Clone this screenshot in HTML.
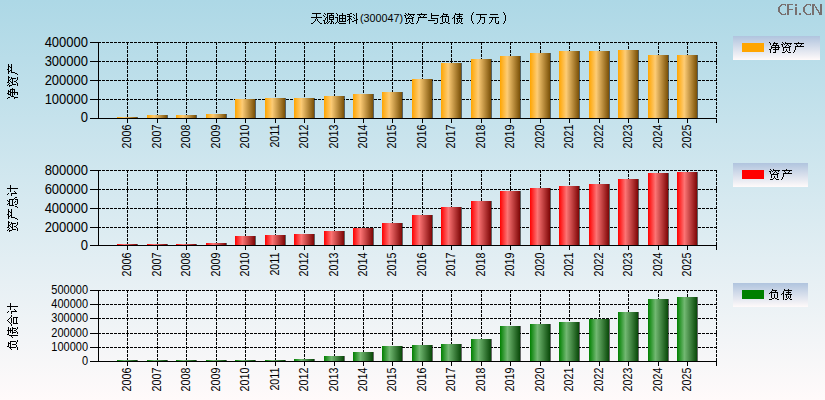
<!DOCTYPE html>
<html><head><meta charset="utf-8">
<style>
html,body{margin:0;padding:0;width:825px;height:400px;overflow:hidden;}
svg{display:block;}
text{font-family:"Liberation Sans",sans-serif;}
</style></head><body>
<svg width="825" height="400" viewBox="0 0 825 400">
<defs>
<linearGradient id="bg" x1="0" y1="0" x2="0" y2="1">
<stop offset="0" stop-color="#ADD8E6"/><stop offset="1" stop-color="#FFFAFA"/></linearGradient>
<linearGradient id="lg" x1="0" y1="0" x2="0" y2="1">
<stop offset="0" stop-color="#B0C4DE"/><stop offset="1" stop-color="#FFFAFA"/></linearGradient>
<linearGradient id="gO" x1="0" y1="0" x2="1" y2="0">
<stop offset="0" stop-color="#FFA500"/><stop offset="0.36" stop-color="#FDCC76"/><stop offset="1" stop-color="#7A5006"/></linearGradient>
<linearGradient id="gR" x1="0" y1="0" x2="1" y2="0">
<stop offset="0" stop-color="#FF0000"/><stop offset="0.37" stop-color="#FC7474"/><stop offset="1" stop-color="#7E0606"/></linearGradient>
<linearGradient id="gG" x1="0" y1="0" x2="1" y2="0">
<stop offset="0" stop-color="#008000"/><stop offset="0.37" stop-color="#72B872"/><stop offset="1" stop-color="#084808"/></linearGradient>
</defs>
<rect x="0" y="0" width="825" height="400" fill="url(#bg)"/>

<path shape-rendering="crispEdges" fill="#000" d="M312 13h9v1h-9zM324 13h1v1h-1zM327 13h7v1h-7zM336 13h1v1h-1zM342 13h1v1h-1zM350 13h2v1h-2zM356 13h1v1h-1zM316 14h1v1h-1zM325 14h1v1h-1zM327 14h1v1h-1zM331 14h1v1h-1zM337 14h1v1h-1zM342 14h1v1h-1zM347 14h3v1h-3zM353 14h1v1h-1zM356 14h1v1h-1zM316 15h1v1h-1zM323 15h1v1h-1zM327 15h1v1h-1zM329 15h5v1h-5zM337 15h1v1h-1zM339 15h7v1h-7zM349 15h1v1h-1zM354 15h1v1h-1zM356 15h1v1h-1zM316 16h1v1h-1zM324 16h1v1h-1zM327 16h1v1h-1zM329 16h1v1h-1zM333 16h1v1h-1zM339 16h1v1h-1zM342 16h1v1h-1zM345 16h1v1h-1zM347 16h5v1h-5zM356 16h1v1h-1zM311 17h11v1h-11zM326 17h2v1h-2zM329 17h5v1h-5zM335 17h3v1h-3zM339 17h1v1h-1zM342 17h1v1h-1zM345 17h1v1h-1zM349 17h1v1h-1zM353 17h1v1h-1zM356 17h1v1h-1zM316 18h1v1h-1zM325 18h1v1h-1zM327 18h1v1h-1zM329 18h1v1h-1zM333 18h1v1h-1zM337 18h1v1h-1zM339 18h7v1h-7zM349 18h2v1h-2zM354 18h1v1h-1zM356 18h1v1h-1zM315 19h1v1h-1zM317 19h1v1h-1zM325 19h1v1h-1zM327 19h1v1h-1zM329 19h5v1h-5zM337 19h1v1h-1zM339 19h1v1h-1zM342 19h1v1h-1zM345 19h1v1h-1zM348 19h2v1h-2zM351 19h1v1h-1zM356 19h2v1h-2zM315 20h1v1h-1zM317 20h1v1h-1zM323 20h2v1h-2zM327 20h1v1h-1zM331 20h1v1h-1zM337 20h1v1h-1zM339 20h1v1h-1zM342 20h1v1h-1zM345 20h1v1h-1zM347 20h1v1h-1zM349 20h1v1h-1zM354 20h3v1h-3zM314 21h1v1h-1zM318 21h1v1h-1zM324 21h1v1h-1zM327 21h1v1h-1zM329 21h1v1h-1zM331 21h2v1h-2zM337 21h1v1h-1zM339 21h7v1h-7zM349 21h1v1h-1zM352 21h2v1h-2zM356 21h1v1h-1zM313 22h1v1h-1zM319 22h1v1h-1zM324 22h1v1h-1zM326 22h1v1h-1zM328 22h1v1h-1zM331 22h1v1h-1zM333 22h1v1h-1zM336 22h1v1h-1zM338 22h1v1h-1zM349 22h1v1h-1zM356 22h1v1h-1zM311 23h2v1h-2zM320 23h2v1h-2zM324 23h2v1h-2zM327 23h1v1h-1zM330 23h2v1h-2zM333 23h1v1h-1zM335 23h1v1h-1zM339 23h7v1h-7zM349 23h1v1h-1zM356 23h1v1h-1zM473 12h1v1h-1zM503 12h1v1h-1zM405 13h1v1h-1zM408 13h1v1h-1zM421 13h1v1h-1zM431 13h1v1h-1zM443 13h1v1h-1zM455 13h1v1h-1zM459 13h1v1h-1zM472 13h1v1h-1zM504 13h1v1h-1zM406 14h1v1h-1zM408 14h7v1h-7zM417 14h10v1h-10zM431 14h1v1h-1zM443 14h5v1h-5zM455 14h8v1h-8zM472 14h1v1h-1zM476 14h11v1h-11zM490 14h8v1h-8zM504 14h1v1h-1zM404 15h2v1h-2zM407 15h1v1h-1zM410 15h1v1h-1zM413 15h1v1h-1zM419 15h1v1h-1zM424 15h1v1h-1zM431 15h8v1h-8zM442 15h1v1h-1zM446 15h1v1h-1zM454 15h1v1h-1zM459 15h1v1h-1zM471 15h1v1h-1zM480 15h1v1h-1zM505 15h1v1h-1zM405 16h1v1h-1zM409 16h1v1h-1zM411 16h1v1h-1zM420 16h1v1h-1zM423 16h1v1h-1zM431 16h1v1h-1zM441 16h8v1h-8zM454 16h1v1h-1zM457 16h5v1h-5zM471 16h1v1h-1zM480 16h1v1h-1zM505 16h1v1h-1zM405 17h1v1h-1zM408 17h1v1h-1zM412 17h2v1h-2zM418 17h9v1h-9zM431 17h1v1h-1zM440 17h1v1h-1zM442 17h1v1h-1zM448 17h1v1h-1zM453 17h2v1h-2zM459 17h1v1h-1zM471 17h1v1h-1zM480 17h5v1h-5zM489 17h10v1h-10zM505 17h1v1h-1zM406 18h7v1h-7zM418 18h1v1h-1zM431 18h7v1h-7zM442 18h1v1h-1zM445 18h1v1h-1zM448 18h1v1h-1zM452 18h1v1h-1zM454 18h1v1h-1zM456 18h7v1h-7zM471 18h1v1h-1zM480 18h1v1h-1zM484 18h1v1h-1zM492 18h1v1h-1zM495 18h1v1h-1zM505 18h1v1h-1zM406 19h1v1h-1zM412 19h1v1h-1zM418 19h1v1h-1zM437 19h1v1h-1zM442 19h1v1h-1zM445 19h1v1h-1zM448 19h1v1h-1zM454 19h1v1h-1zM457 19h1v1h-1zM461 19h1v1h-1zM471 19h1v1h-1zM480 19h1v1h-1zM484 19h1v1h-1zM492 19h1v1h-1zM495 19h1v1h-1zM505 19h1v1h-1zM406 20h1v1h-1zM409 20h1v1h-1zM412 20h1v1h-1zM418 20h1v1h-1zM428 20h7v1h-7zM437 20h1v1h-1zM442 20h1v1h-1zM445 20h1v1h-1zM448 20h1v1h-1zM454 20h1v1h-1zM457 20h1v1h-1zM459 20h1v1h-1zM461 20h1v1h-1zM471 20h1v1h-1zM479 20h1v1h-1zM484 20h1v1h-1zM491 20h1v1h-1zM495 20h1v1h-1zM505 20h1v1h-1zM406 21h1v1h-1zM409 21h1v1h-1zM412 21h1v1h-1zM417 21h1v1h-1zM437 21h1v1h-1zM442 21h1v1h-1zM445 21h1v1h-1zM448 21h1v1h-1zM454 21h1v1h-1zM457 21h1v1h-1zM459 21h1v1h-1zM461 21h1v1h-1zM472 21h1v1h-1zM479 21h1v1h-1zM484 21h1v1h-1zM491 21h1v1h-1zM495 21h1v1h-1zM498 21h1v1h-1zM504 21h1v1h-1zM408 22h1v1h-1zM410 22h1v1h-1zM417 22h1v1h-1zM437 22h1v1h-1zM443 22h2v1h-2zM446 22h2v1h-2zM454 22h1v1h-1zM458 22h1v1h-1zM460 22h1v1h-1zM472 22h1v1h-1zM478 22h1v1h-1zM484 22h1v1h-1zM490 22h1v1h-1zM495 22h1v1h-1zM498 22h1v1h-1zM504 22h1v1h-1zM405 23h3v1h-3zM411 23h3v1h-3zM416 23h1v1h-1zM434 23h3v1h-3zM440 23h3v1h-3zM448 23h2v1h-2zM454 23h1v1h-1zM456 23h2v1h-2zM461 23h2v1h-2zM473 23h1v1h-1zM477 23h1v1h-1zM482 23h2v1h-2zM489 23h1v1h-1zM496 23h3v1h-3zM503 23h1v1h-1z"/>
<text x="360" y="22" font-size="11" fill="#000" textLength="43" lengthAdjust="spacingAndGlyphs">(300047)</text>
<path shape-rendering="crispEdges" fill="#787070" d="M781 4h5v1h-5zM780 5h2v1h-2zM785 5h1v1h-1zM779 6h2v1h-2zM778 7h2v1h-2zM778 8h2v1h-2zM778 9h2v1h-2zM778 10h2v1h-2zM778 11h2v1h-2zM779 12h2v1h-2zM780 13h2v1h-2zM785 13h1v1h-1zM781 14h5v1h-5zM787 4h6v1h-6zM787 5h2v1h-2zM787 6h2v1h-2zM787 7h2v1h-2zM787 8h2v1h-2zM787 9h6v1h-6zM787 10h2v1h-2zM787 11h2v1h-2zM787 12h2v1h-2zM787 13h2v1h-2zM787 14h2v1h-2zM795 4h2v1h-2zM795 5h2v1h-2zM795 7h2v1h-2zM795 8h2v1h-2zM795 9h2v1h-2zM795 10h2v1h-2zM795 11h2v1h-2zM795 12h2v1h-2zM795 13h2v1h-2zM795 14h2v1h-2zM799 13h2v1h-2zM799 14h2v1h-2zM806 4h5v1h-5zM805 5h2v1h-2zM810 5h1v1h-1zM804 6h2v1h-2zM803 7h2v1h-2zM803 8h2v1h-2zM803 9h2v1h-2zM803 10h2v1h-2zM803 11h2v1h-2zM804 12h2v1h-2zM805 13h2v1h-2zM810 13h1v1h-1zM806 14h5v1h-5zM812 4h3v1h-3zM820 4h2v1h-2zM812 5h3v1h-3zM820 5h2v1h-2zM812 6h2v1h-2zM815 6h1v1h-1zM820 6h2v1h-2zM812 7h2v1h-2zM815 7h2v1h-2zM820 7h2v1h-2zM812 8h2v1h-2zM816 8h1v1h-1zM820 8h2v1h-2zM812 9h2v1h-2zM816 9h2v1h-2zM820 9h2v1h-2zM812 10h2v1h-2zM817 10h2v1h-2zM820 10h2v1h-2zM812 11h2v1h-2zM818 11h1v1h-1zM820 11h2v1h-2zM812 12h2v1h-2zM818 12h4v1h-4zM812 13h2v1h-2zM819 13h3v1h-3zM812 14h2v1h-2zM819 14h3v1h-3z"/>
<line x1="98" y1="42.5" x2="717" y2="42.5" stroke="#000" stroke-width="1" stroke-dasharray="3 1"/>
<line x1="98" y1="61.5" x2="717" y2="61.5" stroke="#000" stroke-width="1" stroke-dasharray="3 1"/>
<line x1="98" y1="80.5" x2="717" y2="80.5" stroke="#000" stroke-width="1" stroke-dasharray="3 1"/>
<line x1="98" y1="99.5" x2="717" y2="99.5" stroke="#000" stroke-width="1" stroke-dasharray="3 1"/>
<line x1="127.5" y1="42" x2="127.5" y2="118" stroke="#000" stroke-width="1" stroke-dasharray="3 1"/>
<line x1="157.5" y1="42" x2="157.5" y2="118" stroke="#000" stroke-width="1" stroke-dasharray="3 1"/>
<line x1="186.5" y1="42" x2="186.5" y2="118" stroke="#000" stroke-width="1" stroke-dasharray="3 1"/>
<line x1="216.5" y1="42" x2="216.5" y2="118" stroke="#000" stroke-width="1" stroke-dasharray="3 1"/>
<line x1="245.5" y1="42" x2="245.5" y2="118" stroke="#000" stroke-width="1" stroke-dasharray="3 1"/>
<line x1="275.5" y1="42" x2="275.5" y2="118" stroke="#000" stroke-width="1" stroke-dasharray="3 1"/>
<line x1="304.5" y1="42" x2="304.5" y2="118" stroke="#000" stroke-width="1" stroke-dasharray="3 1"/>
<line x1="334.5" y1="42" x2="334.5" y2="118" stroke="#000" stroke-width="1" stroke-dasharray="3 1"/>
<line x1="363.5" y1="42" x2="363.5" y2="118" stroke="#000" stroke-width="1" stroke-dasharray="3 1"/>
<line x1="392.5" y1="42" x2="392.5" y2="118" stroke="#000" stroke-width="1" stroke-dasharray="3 1"/>
<line x1="422.5" y1="42" x2="422.5" y2="118" stroke="#000" stroke-width="1" stroke-dasharray="3 1"/>
<line x1="451.5" y1="42" x2="451.5" y2="118" stroke="#000" stroke-width="1" stroke-dasharray="3 1"/>
<line x1="481.5" y1="42" x2="481.5" y2="118" stroke="#000" stroke-width="1" stroke-dasharray="3 1"/>
<line x1="510.5" y1="42" x2="510.5" y2="118" stroke="#000" stroke-width="1" stroke-dasharray="3 1"/>
<line x1="540.5" y1="42" x2="540.5" y2="118" stroke="#000" stroke-width="1" stroke-dasharray="3 1"/>
<line x1="569.5" y1="42" x2="569.5" y2="118" stroke="#000" stroke-width="1" stroke-dasharray="3 1"/>
<line x1="599.5" y1="42" x2="599.5" y2="118" stroke="#000" stroke-width="1" stroke-dasharray="3 1"/>
<line x1="628.5" y1="42" x2="628.5" y2="118" stroke="#000" stroke-width="1" stroke-dasharray="3 1"/>
<line x1="658.5" y1="42" x2="658.5" y2="118" stroke="#000" stroke-width="1" stroke-dasharray="3 1"/>
<line x1="687.5" y1="42" x2="687.5" y2="118" stroke="#000" stroke-width="1" stroke-dasharray="3 1"/>
<line x1="716.5" y1="42" x2="716.5" y2="118" stroke="#000" stroke-width="1" stroke-dasharray="3 1"/>
<rect x="117" y="117" width="20" height="1" fill="url(#gO)"/>
<rect x="137" y="117" width="1" height="1" fill="#000" fill-opacity="0.57"/>
<rect x="147" y="115" width="20" height="3" fill="url(#gO)"/>
<rect x="167" y="115" width="1" height="3" fill="#000" fill-opacity="0.57"/>
<rect x="176" y="115" width="20" height="3" fill="url(#gO)"/>
<rect x="196" y="115" width="1" height="3" fill="#000" fill-opacity="0.57"/>
<rect x="206" y="114" width="20" height="4" fill="url(#gO)"/>
<rect x="226" y="114" width="1" height="4" fill="#000" fill-opacity="0.57"/>
<rect x="235" y="99" width="20" height="19" fill="url(#gO)"/>
<rect x="255" y="99" width="1" height="19" fill="#000" fill-opacity="0.57"/>
<rect x="265" y="98" width="20" height="20" fill="url(#gO)"/>
<rect x="285" y="98" width="1" height="20" fill="#000" fill-opacity="0.57"/>
<rect x="294" y="98" width="20" height="20" fill="url(#gO)"/>
<rect x="314" y="98" width="1" height="20" fill="#000" fill-opacity="0.57"/>
<rect x="324" y="96" width="20" height="22" fill="url(#gO)"/>
<rect x="344" y="96" width="1" height="22" fill="#000" fill-opacity="0.57"/>
<rect x="353" y="94" width="20" height="24" fill="url(#gO)"/>
<rect x="373" y="94" width="1" height="24" fill="#000" fill-opacity="0.57"/>
<rect x="382" y="92" width="20" height="26" fill="url(#gO)"/>
<rect x="402" y="92" width="1" height="26" fill="#000" fill-opacity="0.57"/>
<rect x="412" y="79" width="20" height="39" fill="url(#gO)"/>
<rect x="432" y="79" width="1" height="39" fill="#000" fill-opacity="0.57"/>
<rect x="441" y="63" width="20" height="55" fill="url(#gO)"/>
<rect x="461" y="63" width="1" height="55" fill="#000" fill-opacity="0.57"/>
<rect x="471" y="59" width="20" height="59" fill="url(#gO)"/>
<rect x="491" y="59" width="1" height="59" fill="#000" fill-opacity="0.57"/>
<rect x="500" y="56" width="20" height="62" fill="url(#gO)"/>
<rect x="520" y="56" width="1" height="62" fill="#000" fill-opacity="0.57"/>
<rect x="530" y="53" width="20" height="65" fill="url(#gO)"/>
<rect x="550" y="53" width="1" height="65" fill="#000" fill-opacity="0.57"/>
<rect x="559" y="51" width="20" height="67" fill="url(#gO)"/>
<rect x="579" y="51" width="1" height="67" fill="#000" fill-opacity="0.57"/>
<rect x="589" y="51" width="20" height="67" fill="url(#gO)"/>
<rect x="609" y="51" width="1" height="67" fill="#000" fill-opacity="0.57"/>
<rect x="618" y="50" width="20" height="68" fill="url(#gO)"/>
<rect x="638" y="50" width="1" height="68" fill="#000" fill-opacity="0.57"/>
<rect x="648" y="55" width="20" height="63" fill="url(#gO)"/>
<rect x="668" y="55" width="1" height="63" fill="#000" fill-opacity="0.57"/>
<rect x="677" y="55" width="20" height="63" fill="url(#gO)"/>
<rect x="697" y="55" width="1" height="63" fill="#000" fill-opacity="0.57"/>
<rect x="98" y="42" width="1" height="77" fill="#000"/>
<rect x="90" y="42" width="8" height="1" fill="#000"/>
<rect x="90" y="61" width="8" height="1" fill="#000"/>
<rect x="90" y="80" width="8" height="1" fill="#000"/>
<rect x="90" y="99" width="8" height="1" fill="#000"/>
<rect x="90" y="118" width="8" height="1" fill="#000"/>
<rect x="90" y="118" width="627" height="1" fill="#000"/>
<rect x="127" y="119" width="1" height="4" fill="#000"/>
<rect x="157" y="119" width="1" height="4" fill="#000"/>
<rect x="186" y="119" width="1" height="4" fill="#000"/>
<rect x="216" y="119" width="1" height="4" fill="#000"/>
<rect x="245" y="119" width="1" height="4" fill="#000"/>
<rect x="275" y="119" width="1" height="4" fill="#000"/>
<rect x="304" y="119" width="1" height="4" fill="#000"/>
<rect x="334" y="119" width="1" height="4" fill="#000"/>
<rect x="363" y="119" width="1" height="4" fill="#000"/>
<rect x="392" y="119" width="1" height="4" fill="#000"/>
<rect x="422" y="119" width="1" height="4" fill="#000"/>
<rect x="451" y="119" width="1" height="4" fill="#000"/>
<rect x="481" y="119" width="1" height="4" fill="#000"/>
<rect x="510" y="119" width="1" height="4" fill="#000"/>
<rect x="540" y="119" width="1" height="4" fill="#000"/>
<rect x="569" y="119" width="1" height="4" fill="#000"/>
<rect x="599" y="119" width="1" height="4" fill="#000"/>
<rect x="628" y="119" width="1" height="4" fill="#000"/>
<rect x="658" y="119" width="1" height="4" fill="#000"/>
<rect x="687" y="119" width="1" height="4" fill="#000"/>
<rect x="716" y="119" width="1" height="4" fill="#000"/>
<text transform="translate(88,47) scale(1,1.1)" font-size="13" text-anchor="end" fill="#000">400000</text>
<text transform="translate(88,66) scale(1,1.1)" font-size="13" text-anchor="end" fill="#000">300000</text>
<text transform="translate(88,85) scale(1,1.1)" font-size="13" text-anchor="end" fill="#000">200000</text>
<text transform="translate(88,104) scale(1,1.1)" font-size="13" text-anchor="end" fill="#000">100000</text>
<text transform="translate(88,122) scale(1,1.1)" font-size="13" text-anchor="end" fill="#000">0</text>
<text transform="translate(131,124.6) rotate(-90) scale(1,1.13)" font-size="10.7" text-anchor="end" fill="#000">2006</text>
<text transform="translate(161,124.6) rotate(-90) scale(1,1.13)" font-size="10.7" text-anchor="end" fill="#000">2007</text>
<text transform="translate(190,124.6) rotate(-90) scale(1,1.13)" font-size="10.7" text-anchor="end" fill="#000">2008</text>
<text transform="translate(220,124.6) rotate(-90) scale(1,1.13)" font-size="10.7" text-anchor="end" fill="#000">2009</text>
<text transform="translate(249,124.6) rotate(-90) scale(1,1.13)" font-size="10.7" text-anchor="end" fill="#000">2010</text>
<text transform="translate(279,124.6) rotate(-90) scale(1,1.13)" font-size="10.7" text-anchor="end" fill="#000">2011</text>
<text transform="translate(308,124.6) rotate(-90) scale(1,1.13)" font-size="10.7" text-anchor="end" fill="#000">2012</text>
<text transform="translate(338,124.6) rotate(-90) scale(1,1.13)" font-size="10.7" text-anchor="end" fill="#000">2013</text>
<text transform="translate(367,124.6) rotate(-90) scale(1,1.13)" font-size="10.7" text-anchor="end" fill="#000">2014</text>
<text transform="translate(396,124.6) rotate(-90) scale(1,1.13)" font-size="10.7" text-anchor="end" fill="#000">2015</text>
<text transform="translate(426,124.6) rotate(-90) scale(1,1.13)" font-size="10.7" text-anchor="end" fill="#000">2016</text>
<text transform="translate(455,124.6) rotate(-90) scale(1,1.13)" font-size="10.7" text-anchor="end" fill="#000">2017</text>
<text transform="translate(485,124.6) rotate(-90) scale(1,1.13)" font-size="10.7" text-anchor="end" fill="#000">2018</text>
<text transform="translate(514,124.6) rotate(-90) scale(1,1.13)" font-size="10.7" text-anchor="end" fill="#000">2019</text>
<text transform="translate(544,124.6) rotate(-90) scale(1,1.13)" font-size="10.7" text-anchor="end" fill="#000">2020</text>
<text transform="translate(573,124.6) rotate(-90) scale(1,1.13)" font-size="10.7" text-anchor="end" fill="#000">2021</text>
<text transform="translate(603,124.6) rotate(-90) scale(1,1.13)" font-size="10.7" text-anchor="end" fill="#000">2022</text>
<text transform="translate(632,124.6) rotate(-90) scale(1,1.13)" font-size="10.7" text-anchor="end" fill="#000">2023</text>
<text transform="translate(662,124.6) rotate(-90) scale(1,1.13)" font-size="10.7" text-anchor="end" fill="#000">2024</text>
<text transform="translate(691,124.6) rotate(-90) scale(1,1.13)" font-size="10.7" text-anchor="end" fill="#000">2025</text>
<path shape-rendering="crispEdges" fill="#000" d="M8 64h1v1h-1zM11 64h1v1h-1zM8 65h1v1h-1zM11 65h1v1h-1zM8 66h2v1h-2zM11 66h1v1h-1zM8 67h1v1h-1zM10 67h2v1h-2zM8 68h1v1h-1zM11 68h1v1h-1zM7 69h2v1h-2zM11 69h1v1h-1zM8 70h1v1h-1zM10 70h2v1h-2zM8 71h2v1h-2zM11 71h1v1h-1zM8 72h1v1h-1zM11 72h4v1h-4zM8 73h1v1h-1zM15 73h2v1h-2zM17 74h1v1h-1zM8 76h1v1h-1zM8 77h2v1h-2zM11 77h1v1h-1zM17 77h1v1h-1zM8 78h1v1h-1zM11 78h5v1h-5zM17 78h1v1h-1zM8 79h1v1h-1zM10 79h1v1h-1zM12 79h1v1h-1zM17 79h1v1h-1zM8 80h2v1h-2zM12 80h1v1h-1zM16 80h1v1h-1zM8 81h1v1h-1zM10 81h1v1h-1zM12 81h1v1h-1zM14 81h2v1h-2zM7 82h2v1h-2zM11 82h2v1h-2zM16 82h1v1h-1zM9 83h1v1h-1zM12 83h1v1h-1zM17 83h1v1h-1zM8 84h1v1h-1zM12 84h4v1h-4zM17 84h1v1h-1zM7 85h1v1h-1zM9 85h3v1h-3zM17 85h1v1h-1zM9 86h1v1h-1zM12 88h1v1h-1zM10 89h5v1h-5zM8 90h1v1h-1zM10 90h1v1h-1zM12 90h1v1h-1zM14 90h1v1h-1zM8 91h3v1h-3zM12 91h1v1h-1zM14 91h1v1h-1zM8 92h1v1h-1zM10 92h8v1h-8zM7 93h2v1h-2zM10 93h1v1h-1zM12 93h1v1h-1zM14 93h1v1h-1zM17 93h1v1h-1zM8 94h3v1h-3zM12 94h1v1h-1zM14 94h1v1h-1zM17 94h1v1h-1zM10 95h1v1h-1zM12 95h1v1h-1zM11 96h3v1h-3zM8 97h2v1h-2zM14 97h4v1h-4zM7 98h1v1h-1zM14 98h1v1h-1z"/>
<rect x="733" y="36" width="87" height="24" fill="url(#lg)"/>
<rect x="742" y="43" width="22" height="9" fill="#FFA500"/>
<path shape-rendering="crispEdges" fill="#000" d="M769 42h1v1h-1zM774 42h1v1h-1zM782 42h1v1h-1zM785 42h1v1h-1zM798 42h1v1h-1zM770 43h1v1h-1zM773 43h5v1h-5zM783 43h1v1h-1zM785 43h7v1h-7zM794 43h10v1h-10zM770 44h1v1h-1zM773 44h1v1h-1zM776 44h1v1h-1zM781 44h2v1h-2zM784 44h1v1h-1zM787 44h1v1h-1zM790 44h1v1h-1zM796 44h1v1h-1zM801 44h1v1h-1zM772 45h7v1h-7zM782 45h1v1h-1zM786 45h1v1h-1zM788 45h1v1h-1zM797 45h1v1h-1zM800 45h1v1h-1zM771 46h1v1h-1zM775 46h1v1h-1zM778 46h1v1h-1zM782 46h1v1h-1zM785 46h1v1h-1zM789 46h2v1h-2zM795 46h9v1h-9zM771 47h9v1h-9zM783 47h7v1h-7zM795 47h1v1h-1zM771 48h1v1h-1zM775 48h1v1h-1zM778 48h1v1h-1zM783 48h1v1h-1zM789 48h1v1h-1zM795 48h1v1h-1zM769 49h2v1h-2zM773 49h6v1h-6zM783 49h1v1h-1zM786 49h1v1h-1zM789 49h1v1h-1zM795 49h1v1h-1zM770 50h1v1h-1zM775 50h1v1h-1zM783 50h1v1h-1zM786 50h1v1h-1zM789 50h1v1h-1zM794 50h1v1h-1zM770 51h1v1h-1zM775 51h1v1h-1zM785 51h1v1h-1zM787 51h1v1h-1zM794 51h1v1h-1zM770 52h1v1h-1zM773 52h3v1h-3zM782 52h3v1h-3zM788 52h3v1h-3zM793 52h1v1h-1z"/>
<line x1="98" y1="170.5" x2="717" y2="170.5" stroke="#000" stroke-width="1" stroke-dasharray="3 1"/>
<line x1="98" y1="189.5" x2="717" y2="189.5" stroke="#000" stroke-width="1" stroke-dasharray="3 1"/>
<line x1="98" y1="208.5" x2="717" y2="208.5" stroke="#000" stroke-width="1" stroke-dasharray="3 1"/>
<line x1="98" y1="227.5" x2="717" y2="227.5" stroke="#000" stroke-width="1" stroke-dasharray="3 1"/>
<line x1="127.5" y1="170" x2="127.5" y2="245" stroke="#000" stroke-width="1" stroke-dasharray="3 1"/>
<line x1="157.5" y1="170" x2="157.5" y2="245" stroke="#000" stroke-width="1" stroke-dasharray="3 1"/>
<line x1="186.5" y1="170" x2="186.5" y2="245" stroke="#000" stroke-width="1" stroke-dasharray="3 1"/>
<line x1="216.5" y1="170" x2="216.5" y2="245" stroke="#000" stroke-width="1" stroke-dasharray="3 1"/>
<line x1="245.5" y1="170" x2="245.5" y2="245" stroke="#000" stroke-width="1" stroke-dasharray="3 1"/>
<line x1="275.5" y1="170" x2="275.5" y2="245" stroke="#000" stroke-width="1" stroke-dasharray="3 1"/>
<line x1="304.5" y1="170" x2="304.5" y2="245" stroke="#000" stroke-width="1" stroke-dasharray="3 1"/>
<line x1="334.5" y1="170" x2="334.5" y2="245" stroke="#000" stroke-width="1" stroke-dasharray="3 1"/>
<line x1="363.5" y1="170" x2="363.5" y2="245" stroke="#000" stroke-width="1" stroke-dasharray="3 1"/>
<line x1="392.5" y1="170" x2="392.5" y2="245" stroke="#000" stroke-width="1" stroke-dasharray="3 1"/>
<line x1="422.5" y1="170" x2="422.5" y2="245" stroke="#000" stroke-width="1" stroke-dasharray="3 1"/>
<line x1="451.5" y1="170" x2="451.5" y2="245" stroke="#000" stroke-width="1" stroke-dasharray="3 1"/>
<line x1="481.5" y1="170" x2="481.5" y2="245" stroke="#000" stroke-width="1" stroke-dasharray="3 1"/>
<line x1="510.5" y1="170" x2="510.5" y2="245" stroke="#000" stroke-width="1" stroke-dasharray="3 1"/>
<line x1="540.5" y1="170" x2="540.5" y2="245" stroke="#000" stroke-width="1" stroke-dasharray="3 1"/>
<line x1="569.5" y1="170" x2="569.5" y2="245" stroke="#000" stroke-width="1" stroke-dasharray="3 1"/>
<line x1="599.5" y1="170" x2="599.5" y2="245" stroke="#000" stroke-width="1" stroke-dasharray="3 1"/>
<line x1="628.5" y1="170" x2="628.5" y2="245" stroke="#000" stroke-width="1" stroke-dasharray="3 1"/>
<line x1="658.5" y1="170" x2="658.5" y2="245" stroke="#000" stroke-width="1" stroke-dasharray="3 1"/>
<line x1="687.5" y1="170" x2="687.5" y2="245" stroke="#000" stroke-width="1" stroke-dasharray="3 1"/>
<line x1="716.5" y1="170" x2="716.5" y2="245" stroke="#000" stroke-width="1" stroke-dasharray="3 1"/>
<rect x="117" y="244" width="20" height="1" fill="url(#gR)"/>
<rect x="137" y="244" width="1" height="1" fill="#000" fill-opacity="0.57"/>
<rect x="147" y="244" width="20" height="1" fill="url(#gR)"/>
<rect x="167" y="244" width="1" height="1" fill="#000" fill-opacity="0.57"/>
<rect x="176" y="244" width="20" height="1" fill="url(#gR)"/>
<rect x="196" y="244" width="1" height="1" fill="#000" fill-opacity="0.57"/>
<rect x="206" y="243" width="20" height="2" fill="url(#gR)"/>
<rect x="226" y="243" width="1" height="2" fill="#000" fill-opacity="0.57"/>
<rect x="235" y="236" width="20" height="9" fill="url(#gR)"/>
<rect x="255" y="236" width="1" height="9" fill="#000" fill-opacity="0.57"/>
<rect x="265" y="235" width="20" height="10" fill="url(#gR)"/>
<rect x="285" y="235" width="1" height="10" fill="#000" fill-opacity="0.57"/>
<rect x="294" y="234" width="20" height="11" fill="url(#gR)"/>
<rect x="314" y="234" width="1" height="11" fill="#000" fill-opacity="0.57"/>
<rect x="324" y="231" width="20" height="14" fill="url(#gR)"/>
<rect x="344" y="231" width="1" height="14" fill="#000" fill-opacity="0.57"/>
<rect x="353" y="228" width="20" height="17" fill="url(#gR)"/>
<rect x="373" y="228" width="1" height="17" fill="#000" fill-opacity="0.57"/>
<rect x="382" y="223" width="20" height="22" fill="url(#gR)"/>
<rect x="402" y="223" width="1" height="22" fill="#000" fill-opacity="0.57"/>
<rect x="412" y="215" width="20" height="30" fill="url(#gR)"/>
<rect x="432" y="215" width="1" height="30" fill="#000" fill-opacity="0.57"/>
<rect x="441" y="207" width="20" height="38" fill="url(#gR)"/>
<rect x="461" y="207" width="1" height="38" fill="#000" fill-opacity="0.57"/>
<rect x="471" y="201" width="20" height="44" fill="url(#gR)"/>
<rect x="491" y="201" width="1" height="44" fill="#000" fill-opacity="0.57"/>
<rect x="500" y="191" width="20" height="54" fill="url(#gR)"/>
<rect x="520" y="191" width="1" height="54" fill="#000" fill-opacity="0.57"/>
<rect x="530" y="188" width="20" height="57" fill="url(#gR)"/>
<rect x="550" y="188" width="1" height="57" fill="#000" fill-opacity="0.57"/>
<rect x="559" y="186" width="20" height="59" fill="url(#gR)"/>
<rect x="579" y="186" width="1" height="59" fill="#000" fill-opacity="0.57"/>
<rect x="589" y="184" width="20" height="61" fill="url(#gR)"/>
<rect x="609" y="184" width="1" height="61" fill="#000" fill-opacity="0.57"/>
<rect x="618" y="179" width="20" height="66" fill="url(#gR)"/>
<rect x="638" y="179" width="1" height="66" fill="#000" fill-opacity="0.57"/>
<rect x="648" y="173" width="20" height="72" fill="url(#gR)"/>
<rect x="668" y="173" width="1" height="72" fill="#000" fill-opacity="0.57"/>
<rect x="677" y="172" width="20" height="73" fill="url(#gR)"/>
<rect x="697" y="172" width="1" height="73" fill="#000" fill-opacity="0.57"/>
<rect x="98" y="170" width="1" height="76" fill="#000"/>
<rect x="90" y="170" width="8" height="1" fill="#000"/>
<rect x="90" y="189" width="8" height="1" fill="#000"/>
<rect x="90" y="208" width="8" height="1" fill="#000"/>
<rect x="90" y="227" width="8" height="1" fill="#000"/>
<rect x="90" y="245" width="8" height="1" fill="#000"/>
<rect x="90" y="245" width="627" height="1" fill="#000"/>
<rect x="127" y="246" width="1" height="4" fill="#000"/>
<rect x="157" y="246" width="1" height="4" fill="#000"/>
<rect x="186" y="246" width="1" height="4" fill="#000"/>
<rect x="216" y="246" width="1" height="4" fill="#000"/>
<rect x="245" y="246" width="1" height="4" fill="#000"/>
<rect x="275" y="246" width="1" height="4" fill="#000"/>
<rect x="304" y="246" width="1" height="4" fill="#000"/>
<rect x="334" y="246" width="1" height="4" fill="#000"/>
<rect x="363" y="246" width="1" height="4" fill="#000"/>
<rect x="392" y="246" width="1" height="4" fill="#000"/>
<rect x="422" y="246" width="1" height="4" fill="#000"/>
<rect x="451" y="246" width="1" height="4" fill="#000"/>
<rect x="481" y="246" width="1" height="4" fill="#000"/>
<rect x="510" y="246" width="1" height="4" fill="#000"/>
<rect x="540" y="246" width="1" height="4" fill="#000"/>
<rect x="569" y="246" width="1" height="4" fill="#000"/>
<rect x="599" y="246" width="1" height="4" fill="#000"/>
<rect x="628" y="246" width="1" height="4" fill="#000"/>
<rect x="658" y="246" width="1" height="4" fill="#000"/>
<rect x="687" y="246" width="1" height="4" fill="#000"/>
<rect x="716" y="246" width="1" height="4" fill="#000"/>
<text transform="translate(88,175) scale(1,1.1)" font-size="13" text-anchor="end" fill="#000">800000</text>
<text transform="translate(88,194) scale(1,1.1)" font-size="13" text-anchor="end" fill="#000">600000</text>
<text transform="translate(88,213) scale(1,1.1)" font-size="13" text-anchor="end" fill="#000">400000</text>
<text transform="translate(88,232) scale(1,1.1)" font-size="13" text-anchor="end" fill="#000">200000</text>
<text transform="translate(88,250) scale(1,1.1)" font-size="13" text-anchor="end" fill="#000">0</text>
<text transform="translate(131,252.6) rotate(-90) scale(1,1.13)" font-size="10.7" text-anchor="end" fill="#000">2006</text>
<text transform="translate(161,252.6) rotate(-90) scale(1,1.13)" font-size="10.7" text-anchor="end" fill="#000">2007</text>
<text transform="translate(190,252.6) rotate(-90) scale(1,1.13)" font-size="10.7" text-anchor="end" fill="#000">2008</text>
<text transform="translate(220,252.6) rotate(-90) scale(1,1.13)" font-size="10.7" text-anchor="end" fill="#000">2009</text>
<text transform="translate(249,252.6) rotate(-90) scale(1,1.13)" font-size="10.7" text-anchor="end" fill="#000">2010</text>
<text transform="translate(279,252.6) rotate(-90) scale(1,1.13)" font-size="10.7" text-anchor="end" fill="#000">2011</text>
<text transform="translate(308,252.6) rotate(-90) scale(1,1.13)" font-size="10.7" text-anchor="end" fill="#000">2012</text>
<text transform="translate(338,252.6) rotate(-90) scale(1,1.13)" font-size="10.7" text-anchor="end" fill="#000">2013</text>
<text transform="translate(367,252.6) rotate(-90) scale(1,1.13)" font-size="10.7" text-anchor="end" fill="#000">2014</text>
<text transform="translate(396,252.6) rotate(-90) scale(1,1.13)" font-size="10.7" text-anchor="end" fill="#000">2015</text>
<text transform="translate(426,252.6) rotate(-90) scale(1,1.13)" font-size="10.7" text-anchor="end" fill="#000">2016</text>
<text transform="translate(455,252.6) rotate(-90) scale(1,1.13)" font-size="10.7" text-anchor="end" fill="#000">2017</text>
<text transform="translate(485,252.6) rotate(-90) scale(1,1.13)" font-size="10.7" text-anchor="end" fill="#000">2018</text>
<text transform="translate(514,252.6) rotate(-90) scale(1,1.13)" font-size="10.7" text-anchor="end" fill="#000">2019</text>
<text transform="translate(544,252.6) rotate(-90) scale(1,1.13)" font-size="10.7" text-anchor="end" fill="#000">2020</text>
<text transform="translate(573,252.6) rotate(-90) scale(1,1.13)" font-size="10.7" text-anchor="end" fill="#000">2021</text>
<text transform="translate(603,252.6) rotate(-90) scale(1,1.13)" font-size="10.7" text-anchor="end" fill="#000">2022</text>
<text transform="translate(632,252.6) rotate(-90) scale(1,1.13)" font-size="10.7" text-anchor="end" fill="#000">2023</text>
<text transform="translate(662,252.6) rotate(-90) scale(1,1.13)" font-size="10.7" text-anchor="end" fill="#000">2024</text>
<text transform="translate(691,252.6) rotate(-90) scale(1,1.13)" font-size="10.7" text-anchor="end" fill="#000">2025</text>
<path shape-rendering="crispEdges" fill="#000" d="M10 185h1v1h-1zM10 186h1v1h-1zM10 187h1v1h-1zM7 188h11v1h-11zM10 189h1v1h-1zM10 190h1v1h-1zM10 191h1v1h-1zM14 191h1v1h-1zM15 192h1v1h-1zM8 193h1v1h-1zM11 193h6v1h-6zM7 194h1v1h-1zM11 194h1v1h-1zM11 195h1v1h-1zM15 197h2v1h-2zM14 198h1v1h-1zM9 199h5v1h-5zM15 199h3v1h-3zM7 200h1v1h-1zM9 200h1v1h-1zM12 200h1v1h-1zM17 200h1v1h-1zM8 201h2v1h-2zM12 201h1v1h-1zM15 201h1v1h-1zM17 201h1v1h-1zM9 202h1v1h-1zM12 202h1v1h-1zM14 202h1v1h-1zM17 202h1v1h-1zM8 203h2v1h-2zM12 203h1v1h-1zM17 203h1v1h-1zM7 204h1v1h-1zM9 204h1v1h-1zM12 204h1v1h-1zM15 204h2v1h-2zM9 205h5v1h-5zM15 206h2v1h-2zM17 207h1v1h-1zM8 209h1v1h-1zM11 209h1v1h-1zM8 210h1v1h-1zM11 210h1v1h-1zM8 211h2v1h-2zM11 211h1v1h-1zM8 212h1v1h-1zM10 212h2v1h-2zM8 213h1v1h-1zM11 213h1v1h-1zM7 214h2v1h-2zM11 214h1v1h-1zM8 215h1v1h-1zM10 215h2v1h-2zM8 216h2v1h-2zM11 216h1v1h-1zM8 217h1v1h-1zM11 217h4v1h-4zM8 218h1v1h-1zM15 218h2v1h-2zM17 219h1v1h-1zM8 221h1v1h-1zM8 222h2v1h-2zM11 222h1v1h-1zM17 222h1v1h-1zM8 223h1v1h-1zM11 223h5v1h-5zM17 223h1v1h-1zM8 224h1v1h-1zM10 224h1v1h-1zM12 224h1v1h-1zM17 224h1v1h-1zM8 225h2v1h-2zM12 225h1v1h-1zM16 225h1v1h-1zM8 226h1v1h-1zM10 226h1v1h-1zM12 226h1v1h-1zM14 226h2v1h-2zM7 227h2v1h-2zM11 227h2v1h-2zM16 227h1v1h-1zM9 228h1v1h-1zM12 228h1v1h-1zM17 228h1v1h-1zM8 229h1v1h-1zM12 229h4v1h-4zM17 229h1v1h-1zM7 230h1v1h-1zM9 230h3v1h-3zM17 230h1v1h-1zM9 231h1v1h-1z"/>
<rect x="733" y="163" width="75" height="24" fill="url(#lg)"/>
<rect x="742" y="170" width="22" height="9" fill="#FF0000"/>
<path shape-rendering="crispEdges" fill="#000" d="M770 169h1v1h-1zM773 169h1v1h-1zM786 169h1v1h-1zM771 170h1v1h-1zM773 170h7v1h-7zM782 170h10v1h-10zM769 171h2v1h-2zM772 171h1v1h-1zM775 171h1v1h-1zM778 171h1v1h-1zM784 171h1v1h-1zM789 171h1v1h-1zM770 172h1v1h-1zM774 172h1v1h-1zM776 172h1v1h-1zM785 172h1v1h-1zM788 172h1v1h-1zM770 173h1v1h-1zM773 173h1v1h-1zM777 173h2v1h-2zM783 173h9v1h-9zM771 174h7v1h-7zM783 174h1v1h-1zM771 175h1v1h-1zM777 175h1v1h-1zM783 175h1v1h-1zM771 176h1v1h-1zM774 176h1v1h-1zM777 176h1v1h-1zM783 176h1v1h-1zM771 177h1v1h-1zM774 177h1v1h-1zM777 177h1v1h-1zM782 177h1v1h-1zM773 178h1v1h-1zM775 178h1v1h-1zM782 178h1v1h-1zM770 179h3v1h-3zM776 179h3v1h-3zM781 179h1v1h-1z"/>
<line x1="98" y1="290.5" x2="717" y2="290.5" stroke="#000" stroke-width="1" stroke-dasharray="3 1"/>
<line x1="98" y1="304.5" x2="717" y2="304.5" stroke="#000" stroke-width="1" stroke-dasharray="3 1"/>
<line x1="98" y1="318.5" x2="717" y2="318.5" stroke="#000" stroke-width="1" stroke-dasharray="3 1"/>
<line x1="98" y1="333.5" x2="717" y2="333.5" stroke="#000" stroke-width="1" stroke-dasharray="3 1"/>
<line x1="98" y1="347.5" x2="717" y2="347.5" stroke="#000" stroke-width="1" stroke-dasharray="3 1"/>
<line x1="127.5" y1="290" x2="127.5" y2="361" stroke="#000" stroke-width="1" stroke-dasharray="3 1"/>
<line x1="157.5" y1="290" x2="157.5" y2="361" stroke="#000" stroke-width="1" stroke-dasharray="3 1"/>
<line x1="186.5" y1="290" x2="186.5" y2="361" stroke="#000" stroke-width="1" stroke-dasharray="3 1"/>
<line x1="216.5" y1="290" x2="216.5" y2="361" stroke="#000" stroke-width="1" stroke-dasharray="3 1"/>
<line x1="245.5" y1="290" x2="245.5" y2="361" stroke="#000" stroke-width="1" stroke-dasharray="3 1"/>
<line x1="275.5" y1="290" x2="275.5" y2="361" stroke="#000" stroke-width="1" stroke-dasharray="3 1"/>
<line x1="304.5" y1="290" x2="304.5" y2="361" stroke="#000" stroke-width="1" stroke-dasharray="3 1"/>
<line x1="334.5" y1="290" x2="334.5" y2="361" stroke="#000" stroke-width="1" stroke-dasharray="3 1"/>
<line x1="363.5" y1="290" x2="363.5" y2="361" stroke="#000" stroke-width="1" stroke-dasharray="3 1"/>
<line x1="392.5" y1="290" x2="392.5" y2="361" stroke="#000" stroke-width="1" stroke-dasharray="3 1"/>
<line x1="422.5" y1="290" x2="422.5" y2="361" stroke="#000" stroke-width="1" stroke-dasharray="3 1"/>
<line x1="451.5" y1="290" x2="451.5" y2="361" stroke="#000" stroke-width="1" stroke-dasharray="3 1"/>
<line x1="481.5" y1="290" x2="481.5" y2="361" stroke="#000" stroke-width="1" stroke-dasharray="3 1"/>
<line x1="510.5" y1="290" x2="510.5" y2="361" stroke="#000" stroke-width="1" stroke-dasharray="3 1"/>
<line x1="540.5" y1="290" x2="540.5" y2="361" stroke="#000" stroke-width="1" stroke-dasharray="3 1"/>
<line x1="569.5" y1="290" x2="569.5" y2="361" stroke="#000" stroke-width="1" stroke-dasharray="3 1"/>
<line x1="599.5" y1="290" x2="599.5" y2="361" stroke="#000" stroke-width="1" stroke-dasharray="3 1"/>
<line x1="628.5" y1="290" x2="628.5" y2="361" stroke="#000" stroke-width="1" stroke-dasharray="3 1"/>
<line x1="658.5" y1="290" x2="658.5" y2="361" stroke="#000" stroke-width="1" stroke-dasharray="3 1"/>
<line x1="687.5" y1="290" x2="687.5" y2="361" stroke="#000" stroke-width="1" stroke-dasharray="3 1"/>
<line x1="716.5" y1="290" x2="716.5" y2="361" stroke="#000" stroke-width="1" stroke-dasharray="3 1"/>
<rect x="117" y="360" width="20" height="1" fill="url(#gG)"/>
<rect x="137" y="360" width="1" height="1" fill="#000" fill-opacity="0.57"/>
<rect x="147" y="360" width="20" height="1" fill="url(#gG)"/>
<rect x="167" y="360" width="1" height="1" fill="#000" fill-opacity="0.57"/>
<rect x="176" y="360" width="20" height="1" fill="url(#gG)"/>
<rect x="196" y="360" width="1" height="1" fill="#000" fill-opacity="0.57"/>
<rect x="206" y="360" width="20" height="1" fill="url(#gG)"/>
<rect x="226" y="360" width="1" height="1" fill="#000" fill-opacity="0.57"/>
<rect x="235" y="360" width="20" height="1" fill="url(#gG)"/>
<rect x="255" y="360" width="1" height="1" fill="#000" fill-opacity="0.57"/>
<rect x="265" y="360" width="20" height="1" fill="url(#gG)"/>
<rect x="285" y="360" width="1" height="1" fill="#000" fill-opacity="0.57"/>
<rect x="294" y="359" width="20" height="2" fill="url(#gG)"/>
<rect x="314" y="359" width="1" height="2" fill="#000" fill-opacity="0.57"/>
<rect x="324" y="356" width="20" height="5" fill="url(#gG)"/>
<rect x="344" y="356" width="1" height="5" fill="#000" fill-opacity="0.57"/>
<rect x="353" y="352" width="20" height="9" fill="url(#gG)"/>
<rect x="373" y="352" width="1" height="9" fill="#000" fill-opacity="0.57"/>
<rect x="382" y="346" width="20" height="15" fill="url(#gG)"/>
<rect x="402" y="346" width="1" height="15" fill="#000" fill-opacity="0.57"/>
<rect x="412" y="345" width="20" height="16" fill="url(#gG)"/>
<rect x="432" y="345" width="1" height="16" fill="#000" fill-opacity="0.57"/>
<rect x="441" y="344" width="20" height="17" fill="url(#gG)"/>
<rect x="461" y="344" width="1" height="17" fill="#000" fill-opacity="0.57"/>
<rect x="471" y="339" width="20" height="22" fill="url(#gG)"/>
<rect x="491" y="339" width="1" height="22" fill="#000" fill-opacity="0.57"/>
<rect x="500" y="326" width="20" height="35" fill="url(#gG)"/>
<rect x="520" y="326" width="1" height="35" fill="#000" fill-opacity="0.57"/>
<rect x="530" y="324" width="20" height="37" fill="url(#gG)"/>
<rect x="550" y="324" width="1" height="37" fill="#000" fill-opacity="0.57"/>
<rect x="559" y="322" width="20" height="39" fill="url(#gG)"/>
<rect x="579" y="322" width="1" height="39" fill="#000" fill-opacity="0.57"/>
<rect x="589" y="319" width="20" height="42" fill="url(#gG)"/>
<rect x="609" y="319" width="1" height="42" fill="#000" fill-opacity="0.57"/>
<rect x="618" y="312" width="20" height="49" fill="url(#gG)"/>
<rect x="638" y="312" width="1" height="49" fill="#000" fill-opacity="0.57"/>
<rect x="648" y="299" width="20" height="62" fill="url(#gG)"/>
<rect x="668" y="299" width="1" height="62" fill="#000" fill-opacity="0.57"/>
<rect x="677" y="297" width="20" height="64" fill="url(#gG)"/>
<rect x="697" y="297" width="1" height="64" fill="#000" fill-opacity="0.57"/>
<rect x="98" y="290" width="1" height="72" fill="#000"/>
<rect x="90" y="290" width="8" height="1" fill="#000"/>
<rect x="90" y="304" width="8" height="1" fill="#000"/>
<rect x="90" y="318" width="8" height="1" fill="#000"/>
<rect x="90" y="333" width="8" height="1" fill="#000"/>
<rect x="90" y="347" width="8" height="1" fill="#000"/>
<rect x="90" y="361" width="8" height="1" fill="#000"/>
<rect x="90" y="361" width="627" height="1" fill="#000"/>
<rect x="127" y="362" width="1" height="4" fill="#000"/>
<rect x="157" y="362" width="1" height="4" fill="#000"/>
<rect x="186" y="362" width="1" height="4" fill="#000"/>
<rect x="216" y="362" width="1" height="4" fill="#000"/>
<rect x="245" y="362" width="1" height="4" fill="#000"/>
<rect x="275" y="362" width="1" height="4" fill="#000"/>
<rect x="304" y="362" width="1" height="4" fill="#000"/>
<rect x="334" y="362" width="1" height="4" fill="#000"/>
<rect x="363" y="362" width="1" height="4" fill="#000"/>
<rect x="392" y="362" width="1" height="4" fill="#000"/>
<rect x="422" y="362" width="1" height="4" fill="#000"/>
<rect x="451" y="362" width="1" height="4" fill="#000"/>
<rect x="481" y="362" width="1" height="4" fill="#000"/>
<rect x="510" y="362" width="1" height="4" fill="#000"/>
<rect x="540" y="362" width="1" height="4" fill="#000"/>
<rect x="569" y="362" width="1" height="4" fill="#000"/>
<rect x="599" y="362" width="1" height="4" fill="#000"/>
<rect x="628" y="362" width="1" height="4" fill="#000"/>
<rect x="658" y="362" width="1" height="4" fill="#000"/>
<rect x="687" y="362" width="1" height="4" fill="#000"/>
<rect x="716" y="362" width="1" height="4" fill="#000"/>
<text transform="translate(88,294) scale(1,1.18)" font-size="11" text-anchor="end" fill="#000">500000</text>
<text transform="translate(88,308) scale(1,1.18)" font-size="11" text-anchor="end" fill="#000">400000</text>
<text transform="translate(88,322) scale(1,1.18)" font-size="11" text-anchor="end" fill="#000">300000</text>
<text transform="translate(88,337) scale(1,1.18)" font-size="11" text-anchor="end" fill="#000">200000</text>
<text transform="translate(88,351) scale(1,1.18)" font-size="11" text-anchor="end" fill="#000">100000</text>
<text transform="translate(88,365) scale(1,1.18)" font-size="11" text-anchor="end" fill="#000">0</text>
<text transform="translate(131,367.6) rotate(-90) scale(1,1.13)" font-size="10.7" text-anchor="end" fill="#000">2006</text>
<text transform="translate(161,367.6) rotate(-90) scale(1,1.13)" font-size="10.7" text-anchor="end" fill="#000">2007</text>
<text transform="translate(190,367.6) rotate(-90) scale(1,1.13)" font-size="10.7" text-anchor="end" fill="#000">2008</text>
<text transform="translate(220,367.6) rotate(-90) scale(1,1.13)" font-size="10.7" text-anchor="end" fill="#000">2009</text>
<text transform="translate(249,367.6) rotate(-90) scale(1,1.13)" font-size="10.7" text-anchor="end" fill="#000">2010</text>
<text transform="translate(279,367.6) rotate(-90) scale(1,1.13)" font-size="10.7" text-anchor="end" fill="#000">2011</text>
<text transform="translate(308,367.6) rotate(-90) scale(1,1.13)" font-size="10.7" text-anchor="end" fill="#000">2012</text>
<text transform="translate(338,367.6) rotate(-90) scale(1,1.13)" font-size="10.7" text-anchor="end" fill="#000">2013</text>
<text transform="translate(367,367.6) rotate(-90) scale(1,1.13)" font-size="10.7" text-anchor="end" fill="#000">2014</text>
<text transform="translate(396,367.6) rotate(-90) scale(1,1.13)" font-size="10.7" text-anchor="end" fill="#000">2015</text>
<text transform="translate(426,367.6) rotate(-90) scale(1,1.13)" font-size="10.7" text-anchor="end" fill="#000">2016</text>
<text transform="translate(455,367.6) rotate(-90) scale(1,1.13)" font-size="10.7" text-anchor="end" fill="#000">2017</text>
<text transform="translate(485,367.6) rotate(-90) scale(1,1.13)" font-size="10.7" text-anchor="end" fill="#000">2018</text>
<text transform="translate(514,367.6) rotate(-90) scale(1,1.13)" font-size="10.7" text-anchor="end" fill="#000">2019</text>
<text transform="translate(544,367.6) rotate(-90) scale(1,1.13)" font-size="10.7" text-anchor="end" fill="#000">2020</text>
<text transform="translate(573,367.6) rotate(-90) scale(1,1.13)" font-size="10.7" text-anchor="end" fill="#000">2021</text>
<text transform="translate(603,367.6) rotate(-90) scale(1,1.13)" font-size="10.7" text-anchor="end" fill="#000">2022</text>
<text transform="translate(632,367.6) rotate(-90) scale(1,1.13)" font-size="10.7" text-anchor="end" fill="#000">2023</text>
<text transform="translate(662,367.6) rotate(-90) scale(1,1.13)" font-size="10.7" text-anchor="end" fill="#000">2024</text>
<text transform="translate(691,367.6) rotate(-90) scale(1,1.13)" font-size="10.7" text-anchor="end" fill="#000">2025</text>
<path shape-rendering="crispEdges" fill="#000" d="M10 303h1v1h-1zM10 304h1v1h-1zM10 305h1v1h-1zM7 306h11v1h-11zM10 307h1v1h-1zM10 308h1v1h-1zM10 309h1v1h-1zM14 309h1v1h-1zM15 310h1v1h-1zM8 311h1v1h-1zM11 311h6v1h-6zM7 312h1v1h-1zM11 312h1v1h-1zM11 313h1v1h-1zM11 315h1v1h-1zM11 316h1v1h-1zM10 317h1v1h-1zM13 317h5v1h-5zM9 318h1v1h-1zM11 318h1v1h-1zM13 318h1v1h-1zM16 318h1v1h-1zM8 319h1v1h-1zM11 319h1v1h-1zM13 319h1v1h-1zM16 319h1v1h-1zM7 320h1v1h-1zM11 320h1v1h-1zM13 320h1v1h-1zM16 320h1v1h-1zM8 321h1v1h-1zM11 321h1v1h-1zM13 321h1v1h-1zM16 321h1v1h-1zM9 322h1v1h-1zM11 322h1v1h-1zM13 322h1v1h-1zM16 322h1v1h-1zM10 323h1v1h-1zM13 323h5v1h-5zM11 324h1v1h-1zM11 325h1v1h-1zM8 327h1v1h-1zM12 327h1v1h-1zM17 327h1v1h-1zM8 328h1v1h-1zM10 328h1v1h-1zM12 328h4v1h-4zM17 328h1v1h-1zM8 329h1v1h-1zM10 329h1v1h-1zM12 329h1v1h-1zM16 329h1v1h-1zM7 330h6v1h-6zM14 330h2v1h-2zM8 331h1v1h-1zM10 331h1v1h-1zM12 331h1v1h-1zM16 331h1v1h-1zM8 332h1v1h-1zM10 332h1v1h-1zM12 332h4v1h-4zM17 332h1v1h-1zM8 333h1v1h-1zM12 333h1v1h-1zM17 333h1v1h-1zM7 334h2v1h-2zM9 335h9v1h-9zM11 336h1v1h-1zM12 337h1v1h-1zM17 340h1v1h-1zM10 341h6v1h-6zM17 341h1v1h-1zM8 342h1v1h-1zM10 342h1v1h-1zM16 342h1v1h-1zM8 343h3v1h-3zM16 343h1v1h-1zM8 344h1v1h-1zM10 344h1v1h-1zM12 344h4v1h-4zM8 345h1v1h-1zM10 345h1v1h-1zM16 345h1v1h-1zM7 346h2v1h-2zM10 346h1v1h-1zM16 346h1v1h-1zM9 347h7v1h-7zM17 347h1v1h-1zM10 348h1v1h-1zM17 348h1v1h-1zM11 349h1v1h-1zM17 349h1v1h-1z"/>
<rect x="733" y="283" width="75" height="24" fill="url(#lg)"/>
<rect x="742" y="290" width="22" height="9" fill="#008000"/>
<path shape-rendering="crispEdges" fill="#000" d="M772 289h1v1h-1zM784 289h1v1h-1zM788 289h1v1h-1zM772 290h5v1h-5zM784 290h8v1h-8zM771 291h1v1h-1zM775 291h1v1h-1zM783 291h1v1h-1zM788 291h1v1h-1zM770 292h8v1h-8zM783 292h1v1h-1zM786 292h5v1h-5zM769 293h1v1h-1zM771 293h1v1h-1zM777 293h1v1h-1zM782 293h2v1h-2zM788 293h1v1h-1zM771 294h1v1h-1zM774 294h1v1h-1zM777 294h1v1h-1zM781 294h1v1h-1zM783 294h1v1h-1zM785 294h7v1h-7zM771 295h1v1h-1zM774 295h1v1h-1zM777 295h1v1h-1zM783 295h1v1h-1zM786 295h1v1h-1zM790 295h1v1h-1zM771 296h1v1h-1zM774 296h1v1h-1zM777 296h1v1h-1zM783 296h1v1h-1zM786 296h1v1h-1zM788 296h1v1h-1zM790 296h1v1h-1zM771 297h1v1h-1zM774 297h1v1h-1zM777 297h1v1h-1zM783 297h1v1h-1zM786 297h1v1h-1zM788 297h1v1h-1zM790 297h1v1h-1zM772 298h2v1h-2zM775 298h2v1h-2zM783 298h1v1h-1zM787 298h1v1h-1zM789 298h1v1h-1zM769 299h3v1h-3zM777 299h2v1h-2zM783 299h1v1h-1zM785 299h2v1h-2zM790 299h2v1h-2z"/>
</svg></body></html>
